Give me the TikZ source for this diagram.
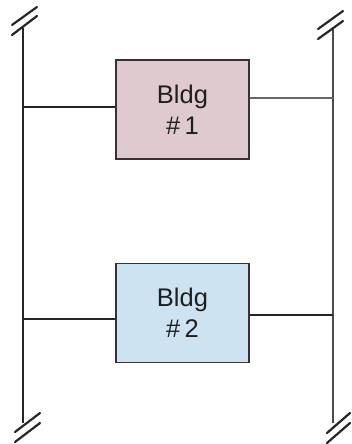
\documentclass[tikz,border=0pt]{standalone}
\usepackage{fontspec}
\setmainfont{Liberation Sans}
\definecolor{pinkfill}{HTML}{DFCAD0}
\definecolor{bluefill}{HTML}{CDE3F1}
\definecolor{boxline}{HTML}{3A3035}
\begin{document}
\begin{tikzpicture}[x=1pt,y=-1pt,
  bus/.style={line width=2pt,black!85},
  slash/.style={line width=2.2pt,black!85,line cap=round},
  tie/.style={line width=2pt,black!85},
  bldg/.style={draw=boxline,line width=1.5pt,minimum width=133pt,minimum height=99pt,
    align=center,font=\fontsize{25.5}{31}\selectfont,text=black!88,inner sep=0pt}]
\useasboundingbox (0,0) rectangle (352,444);
% buses
\coordinate (LT) at (23,28);
\coordinate (LB) at (23,423);
\coordinate (RT) at (333,28);
\coordinate (RB) at (333,423);
\draw[bus] (LT) -- (LB);
\draw[bus,black!70] (RT) -- (RB);
% break marks
\draw[slash] (12,25) -- (37,7);
\draw[slash] (12,35) -- (37,16);
\draw[slash] (318,29) -- (343,11);
\draw[slash] (318,39) -- (343,21);
\draw[slash] (15,432) -- (40,413);
\draw[slash] (15,442) -- (40,423);
\draw[slash] (327,433) -- (350,413);
\draw[slash] (327,443) -- (350,423);
% buildings
\node[bldg,fill=pinkfill] (b1) at (182.5,109.5) {Bldg\\\#\,1};
\node[bldg,fill=bluefill] (b2) at (182.5,313) {Bldg\\\#\,2};
% ties
\coordinate (l1) at (23,107);
\coordinate (r1) at (333,98);
\coordinate (l2) at (23,319);
\coordinate (r2) at (333,315);
\draw[tie] (l1) -- (l1 -| b1.west);
\draw[tie,line width=1.3pt,black!60] (b1.east |- r1) -- (r1);
\draw[tie] (l2) -- (l2 -| b2.west);
\draw[tie] (b2.east |- r2) -- (r2);
\end{tikzpicture}
\end{document}
